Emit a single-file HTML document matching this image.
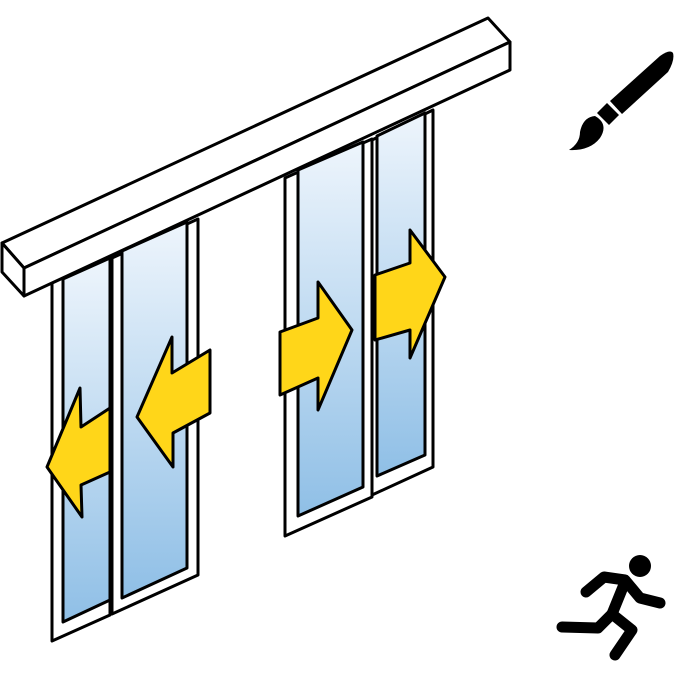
<!DOCTYPE html>
<html><head><meta charset="utf-8"><style>html,body{margin:0;padding:0;background:#fff}svg{display:block}</style></head>
<body>
<svg width="675" height="675" viewBox="0 0 675 675" xmlns="http://www.w3.org/2000/svg">
<defs>
<linearGradient id="g" x1="0" y1="0" x2="0" y2="1">
<stop offset="0" stop-color="#eef5fc"/><stop offset="1" stop-color="#8fbfe6"/>
</linearGradient>
</defs>
<g stroke="#000" stroke-width="3" stroke-linejoin="round">
<polygon points="52,283 110,256 110,615 52,641" fill="#fff"/>
<polygon points="63,279 110,258 110,600 63,622" fill="url(#g)"/>
<polygon points="112,258 198,219 198,575 112,614" fill="#fff"/>
<polygon points="122,251 187,222 187,568 122,598" fill="url(#g)"/>
<polygon points="285,178 372,139 372,497 285,536" fill="#fff"/>
<polygon points="298,170 363,142 363,487 298,516" fill="url(#g)"/>
<polygon points="372,140 433,110 433,467 372,495" fill="#fff"/>
<polygon points="377,136 425,113 425,455 377,476" fill="url(#g)"/>
<polygon points="2,243 488,18 510,42 24,268" fill="#fff"/>
<polygon points="24,268 510,42 510,70 24,296" fill="#fff"/>
<polygon points="2,243 24,268 24,296 2,272" fill="#fff"/>
<polygon points="47,467 80,388 81,427 110,408 110,472 81,485 82,517" fill="#ffd619"/>
<polygon points="137,417 172,337 172,373 210,350 210,413 173,433 173,467" fill="#ffd619"/>
<polygon points="280,332 318,318 318,282 352,330 318,410 318,378 280,395" fill="#ffd619"/>
<polygon points="375,275 410,263 410,230 445,277 410,358 410,330 375,340" fill="#ffd619"/>
</g>
<g fill="#000">
<path d="M610,101 L660,56 Q670,49 673,53 Q675,60 668,72 L622,114 Z"/>
<path d="M597,113 L607,103 L619,115 L609,125 Z"/>
<path d="M595,116 Q609,124 600,138 Q590,151 569,150 Q580,143 580,132 Q583,117 595,116 Z"/>
</g>
<g stroke="#000" stroke-width="11" stroke-linecap="round" stroke-linejoin="round" fill="none">
<path d="M625,582 L612,614"/>
<path d="M586,592 L604,577 L625,580 L640,598 L660,603"/>
<path d="M612,614 L598,628 L562,627"/>
<path d="M612,614 L632,630 L615,655"/>
</g>
<circle cx="640" cy="566" r="11" fill="#000"/>
</svg>
</body></html>
